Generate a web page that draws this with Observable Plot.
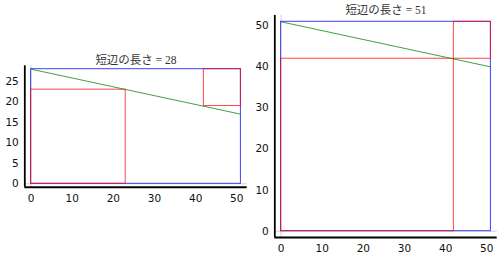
<!DOCTYPE html>
<html><head><meta charset="utf-8">
<script src="https://cdn.jsdelivr.net/npm/d3@7"></script>
<script src="https://cdn.jsdelivr.net/npm/@observablehq/plot@0.6"></script>
<style>
body{margin:0;background:#fff}
#c{position:relative;width:499px;height:257px;overflow:hidden}
#c svg{position:absolute;left:0;top:0}
</style>
</head><body><div id="c"></div>
<script>
// ---- data ----
const titles = ["短辺の長さ = 28", "短辺の長さ = 51"];
const longSide = 51;
const shortSides = [28, 51];
const bigSquares = [23, 42];
const smallSquareX = [42, 42];
const smallSquareY = [19, 42];
const smallSquareSide = [9, 9];
const greenStart = [28, 51];
const greenEnd = [17, 40];
const xTicks = [0, 10, 20, 30, 40, 50];
const yTicksList = [[0, 5, 10, 15, 20, 25], [0, 10, 20, 30, 40, 50]];

// ---- layout (pixel positions of data 0 and data max in each panel) ----
const panels = [
  {x0: 30.6, x1: 240.4, y0: 183.3, y1: 68.7},
  {x0: 280.6, x1: 490.4, y0: 230.7, y1: 21.3}
];
const W = 499, H = 257;
const c = document.getElementById("c");

titles.forEach((title, i) => {
  const h = shortSides[i];
  const pad = v => v * 0.03;
  const xDom = [0 - pad(longSide), longSide + pad(longSide)];
  const yDom = [0 - pad(h), h + pad(h)];
  const p = panels[i];
  const kx = (p.x1 - p.x0) / longSide;
  const ky = (p.y0 - p.y1) / h;
  const left = p.x0 - pad(longSide) * kx;
  const right = p.x1 + pad(longSide) * kx;
  const bottom = p.y0 + pad(h) * ky;
  const top = p.y1 - pad(h) * ky;
  const outer = [{x1: 0, x2: longSide, y1: 0, y2: h}];
  const reds = [
    {x1: 0, x2: bigSquares[i], y1: 0, y2: bigSquares[i]},
    {x1: smallSquareX[i], x2: smallSquareX[i] + smallSquareSide[i], y1: smallSquareY[i], y2: smallSquareY[i] + smallSquareSide[i]}
  ];
  const green = [{x1: 0, y1: greenStart[i], x2: longSide, y2: greenEnd[i]}];
  const svg = Plot.plot({
    width: W, height: H,
    marginLeft: left,
    marginRight: W - right,
    marginTop: top,
    marginBottom: H - bottom,
    x: {domain: xDom},
    y: {domain: yDom},
    style: {fontFamily: "DejaVu Sans", fontSize: "10.5px", color: "#111", background: "transparent", overflow: "visible"},
    marks: [
      Plot.ruleY([0], {stroke: "#d0d0d0", strokeWidth: 1}),
      Plot.ruleX([0], {stroke: "#d0d0d0", strokeWidth: 1}),
      Plot.rect(outer, {x1: "x1", x2: "x2", y1: "y1", y2: "y2", fill: "none", stroke: "#0000ff", strokeOpacity: 0.75, strokeWidth: 1}),
      Plot.rect(reds, {x1: "x1", x2: "x2", y1: "y1", y2: "y2", fill: "none", stroke: "#ff0000", strokeOpacity: 0.73, strokeWidth: 1}),
      Plot.link(green, {x1: "x1", y1: "y1", x2: "x2", y2: "y2", stroke: "#008000", strokeOpacity: 0.75, strokeWidth: 1}),
      Plot.axisX({ticks: xTicks, tickSize: 0, tickPadding: 7, label: null, fontSize: 10.5}),
      Plot.axisY({ticks: yTicksList[i], tickSize: 0, tickPadding: 6, label: null, fontSize: 10.5}),
      Plot.ruleX([xDom[0]], {stroke: "black", strokeWidth: 1.8}),
      Plot.ruleY([yDom[0]], {stroke: "black", strokeWidth: 1.8}),
      Plot.text([title], {frameAnchor: "top", dy: -5.5, lineAnchor: "middle", fontSize: 11.5, fill: "#333",
        fontFamily: "'Liberation Serif', 'Noto Sans CJK JP', sans-serif"})
    ]
  });
  c.appendChild(svg);
});
</script>
</body></html>
